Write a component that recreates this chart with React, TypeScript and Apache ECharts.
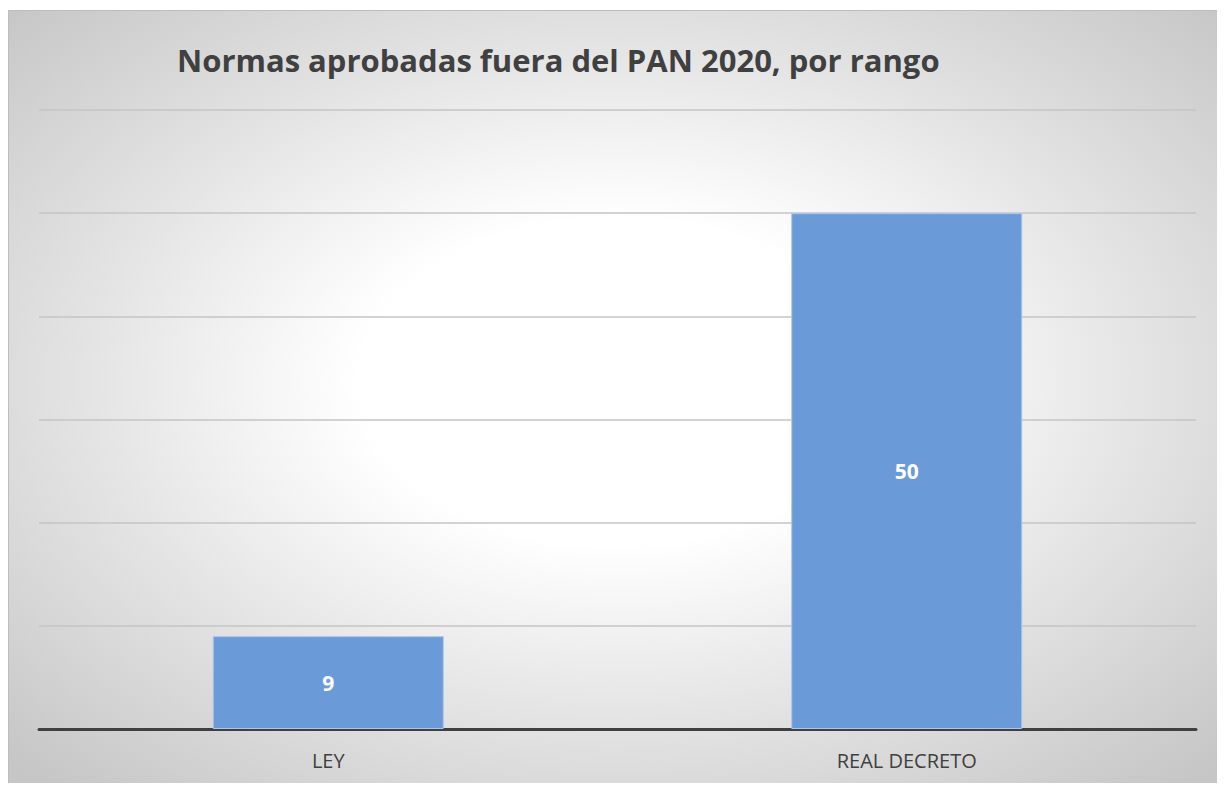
import React, { useEffect, useRef } from "react";
import * as echarts from "echarts";

const categories = ["LEY", "REAL DECRETO"];
const values = [9, 50];
const titleText = "Normas aprobadas fuera del PAN 2020, por rango";

export default function App() {
  const ref = useRef<HTMLDivElement>(null);
  useEffect(() => {
    if (!ref.current) return;
    const chart = echarts.init(ref.current, undefined, { renderer: "svg" });
    chart.setOption({
      animation: false,
      title: {
        text: titleText,
        left: 163,
        top: 28,
        textStyle: {
          fontFamily: "Open Sans",
          fontWeight: "bold",
          fontSize: 31,
          color: "#404040",
        },
      },
      grid: { left: 30, right: 28, top: 99, bottom: 55 },
      xAxis: {
        type: "category",
        data: categories,
        axisLine: { show: true, lineStyle: { color: "#404040", width: 3 } },
        axisTick: { show: false },
        axisLabel: {
          margin: 21,
          fontFamily: "Open Sans",
          fontSize: 20,
          color: "#404040",
        },
      },
      yAxis: {
        type: "value",
        min: 0,
        max: 60,
        interval: 10,
        axisLabel: { show: false },
        axisLine: { show: false },
        axisTick: { show: false },
        splitLine: { lineStyle: { color: "#c4c4c4", width: 1.5 } },
      },
      series: [
        {
          type: "bar",
          data: values,
          barWidth: 231,
          itemStyle: {
            color: "#6a9bd8",
            borderColor: "#a9c6ec",
            borderWidth: 1,
          },
          label: {
            show: true,
            position: "inside",
            color: "#ffffff",
            fontFamily: "Open Sans",
            fontWeight: "bold",
            fontSize: 21,
          },
        },
      ],
    });
    return () => chart.dispose();
  }, []);
  return (
    <div
      ref={ref}
      style={{
        position: "relative",
        top: 2,
        width: 1217,
        height: 775,
        boxSizing: "border-box",
        border: "1px solid #bdbdbd",
        background:
          "radial-gradient(ellipse 70% 70% at 50% 48%, #ffffff 0%, #ffffff 30%, #e4e4e4 62%, #c6c6c6 100%)",
      }}
    />
  );
}
